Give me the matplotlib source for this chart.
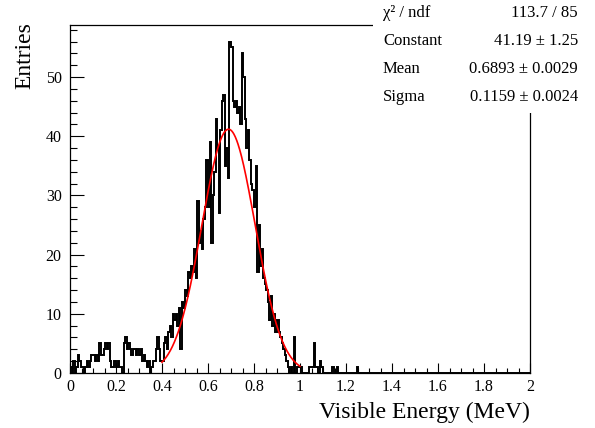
import numpy as np
import matplotlib
matplotlib.use("Agg")
import matplotlib.pyplot as plt
from matplotlib.ticker import MultipleLocator, FuncFormatter
from matplotlib.patches import Rectangle

# ---------------- data ----------------
x_min, x_max, n_bins = 0.0, 2.0, 300
# bin contents, bins of width 2/300 starting at 0; bins after the list are empty
counts_0_0p1 = [1, 0, 2, 0, 1, 3, 2, 1, 1, 0, 1, 2, 1, 2, 3]
counts_0p1_0p2 = [3, 2, 3, 2, 5, 3, 3, 4, 5, 4, 5, 2, 1, 1, 2]
counts_0p2_0p3 = [1, 2, 1, 1, 0, 5, 6, 4, 5, 4, 3, 4, 4, 3, 4]
counts_0p3_0p4 = [3, 4, 2, 3, 2, 1, 2, 0, 1, 2, 2, 4, 6, 4, 2]
counts_0p4_0p5 = [2, 5, 6, 4, 7, 8, 6, 10, 9, 10, 8, 11, 4, 12, 11]
counts_0p5_0p6 = [14, 13, 17, 16, 18, 17, 21, 16, 29, 22, 24, 21, 26, 28, 36]
counts_0p6_0p7 = [28, 39, 22, 30, 34, 43, 38, 27, 41, 46, 47, 35, 38, 33, 56]
counts_0p7_0p8 = [55, 46, 45, 46, 44, 45, 42, 54, 50, 43, 38, 41, 36, 32, 31]
counts_0p8_0p9 = [28, 35, 17, 25, 18, 21, 16, 15, 14, 12, 9, 13, 8, 10, 7]
counts_0p9_1p0 = [9, 7, 6, 5, 4, 3, 2, 1, 0, 1, 0, 6, 0, 1, 1]
counts_1p0_1p1 = [1, 0, 0, 0, 0, 0, 1, 1, 1, 5, 1, 1, 0, 2, 1]
counts_1p1_1p2 = [0, 0, 0, 0, 0, 0, 1, 0, 0, 1, 0, 0, 0, 0, 0]
counts_1p2_1p3 = [0, 0, 0, 0, 0, 0, 0, 1, 0, 0, 0, 0, 0, 0, 0]

# Gaussian fit result (stats box)
fit_const, fit_const_err = 41.19, 1.25
fit_mean, fit_mean_err = 0.6893, 0.0029
fit_sigma, fit_sigma_err = 0.1159, 0.0024
chi2, ndf = 113.7, 85
fit_lo, fit_hi = 0.4, 1.0

x_label = "Visible Energy (MeV)"
y_label = "Entries"

# ---------------- build ----------------
counts = np.array(counts_0_0p1 + counts_0p1_0p2 + counts_0p2_0p3 + counts_0p3_0p4 +
                  counts_0p4_0p5 + counts_0p5_0p6 + counts_0p6_0p7 + counts_0p7_0p8 +
                  counts_0p8_0p9 + counts_0p9_1p0 + counts_1p0_1p1 + counts_1p1_1p2 +
                  counts_1p2_1p3, dtype=float)
counts = np.pad(counts, (0, n_bins - len(counts)))
edges = np.linspace(x_min, x_max, n_bins + 1)

plt.rcParams['font.family'] = ['Liberation Serif', 'DejaVu Serif']

W, H = 595, 428
fig = plt.figure(figsize=(W / 100, H / 100), dpi=100)
L, R, T, B = 70, 530, 25, 373
ax = fig.add_axes([L / W, 1 - B / H, (R - L) / W, (B - T) / H])

ax.stairs(counts, edges, color='black', lw=1.4, baseline=0)
xf = np.linspace(fit_lo, fit_hi, 400)
ax.plot(xf, fit_const * np.exp(-0.5 * ((xf - fit_mean) / fit_sigma) ** 2),
        color='red', lw=1.2)

ax.set_xlim(x_min, x_max)
ax.set_ylim(0, counts.max() * 1.05)

ax.xaxis.set_major_locator(MultipleLocator(0.2))
ax.xaxis.set_minor_locator(MultipleLocator(0.05))
ax.yaxis.set_major_locator(MultipleLocator(10))
ax.yaxis.set_minor_locator(MultipleLocator(2))
ax.xaxis.set_major_formatter(FuncFormatter(lambda v, p: "%g" % round(v, 3)))
ax.yaxis.set_major_formatter(FuncFormatter(lambda v, p: "%g" % v))

ax.tick_params(axis='x', which='major', direction='in', length=7.5, width=0.8,
               labelsize=11.5, pad=4, top=False)
ax.tick_params(axis='x', which='minor', direction='in', length=3.8, width=0.8, top=False)
ax.tick_params(axis='y', which='major', direction='in', length=10, width=0.8,
               labelsize=11.5, pad=6, right=False)
ax.tick_params(axis='y', which='minor', direction='in', length=5, width=0.8, right=False)
for s in ax.spines.values():
    s.set_linewidth(0.9)

fig.text((R) / W, 1 - 418 / H, x_label, ha='right', va='baseline', fontsize=17)
fig.text(25 / W, 1 - 22 / H, y_label, ha='center', va='top', rotation=90, fontsize=17)

# stats box
fig.add_artist(Rectangle((373 / W, 1 - 113 / H), (W - 373) / W, 113 / H,
                         transform=fig.transFigure, facecolor='white',
                         edgecolor='none', zorder=5))
rows = [("χ² / ndf", "%.1f / %d" % (chi2, ndf)),
        ("Constant", "%.2f ± %.2f" % (fit_const, fit_const_err)),
        ("Mean", "%.4f ± %.4f" % (fit_mean, fit_mean_err)),
        ("Sigma", "%.4f ± %.4f" % (fit_sigma, fit_sigma_err))]
for i, (lab, val) in enumerate(rows):
    yb = 17 + 28 * i
    fig.text(383 / W, 1 - yb / H, lab, ha='left', va='baseline', fontsize=12, zorder=6)
    fig.text(578 / W, 1 - yb / H, val, ha='right', va='baseline', fontsize=12, zorder=6)

fig.savefig("out.png", dpi=100)
